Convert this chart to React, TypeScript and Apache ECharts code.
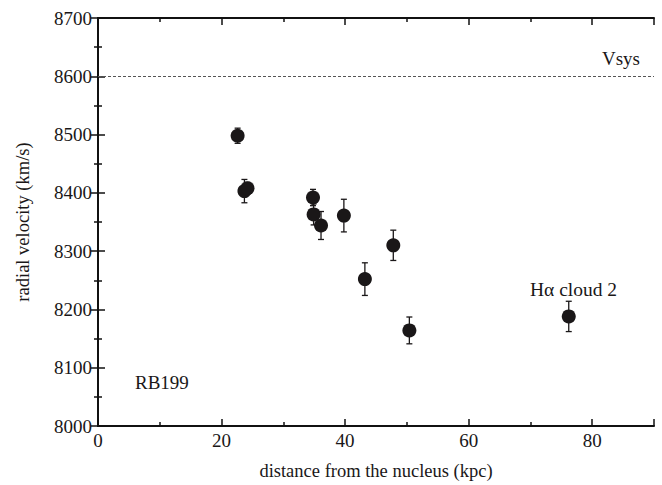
import React, { useEffect, useRef } from "react";
import * as echarts from "echarts";

const distances = [22.6, 23.7, 24.2, 34.8, 34.9, 36.1, 39.8, 43.2, 47.8, 50.4, 76.2];
const velocities = [8498, 8403, 8408, 8392, 8363, 8344, 8361, 8252, 8310, 8164, 8188];
const errors = [13, 20, 10, 14, 18, 24, 28, 28, 26, 23, 26];
const vsys = 8600;
const xTicks = [0, 20, 40, 60, 80];
const yTicks = [8000, 8100, 8200, 8300, 8400, 8500, 8600, 8700];

const FONT = "Liberation Serif";
const INK = "#1a1718";

export default function App() {
  const ref = useRef<HTMLDivElement>(null);
  useEffect(() => {
    if (!ref.current) return;
    const chart = echarts.init(ref.current, null, { renderer: "svg" });
    const pts = distances.map((d, i) => [d, velocities[i], errors[i]]);
    const axisLine = { show: true, lineStyle: { color: "#111", width: 2 } };
    const tickStyle = { color: "#111", width: 1.5 };
    chart.setOption({
      animation: false,
      backgroundColor: "#fff",
      grid: { left: 98, right: 8, top: 18, bottom: 59, containLabel: false },
      xAxis: [
        {
          type: "value", min: 0, max: 90, interval: 20,
          name: "distance from the nucleus (kpc)", nameLocation: "middle", nameGap: 35,
          nameTextStyle: { fontFamily: FONT, fontSize: 18.5, color: INK },
          axisLine,
          axisTick: { inside: true, length: 7, lineStyle: tickStyle },
          minorTick: { show: true, splitNumber: 2, length: 4, lineStyle: tickStyle },
          splitLine: { show: false },
          axisLabel: {
            fontFamily: FONT, fontSize: 19, color: INK, margin: 5,
            formatter: (v: number) => (xTicks.includes(v) ? String(v) : ""),
          },
        },
        {
          type: "value", min: 0, max: 90, interval: 20, position: "top",
          axisLine,
          axisTick: { inside: true, length: 7, lineStyle: tickStyle },
          minorTick: { show: true, splitNumber: 2, length: 4, lineStyle: tickStyle },
          splitLine: { show: false },
          axisLabel: { show: false },
        },
      ],
      yAxis: [
        {
          type: "value", min: 8000, max: 8700, interval: 100,
          name: "radial velocity (km/s)", nameLocation: "middle", nameGap: 66,
          nameTextStyle: { fontFamily: FONT, fontSize: 18.5, color: INK },
          axisLine,
          axisTick: { inside: true, length: 7, lineStyle: tickStyle },
          minorTick: { show: true, splitNumber: 2, length: 4, lineStyle: tickStyle },
          splitLine: { show: false },
          axisLabel: {
            fontFamily: FONT, fontSize: 19, color: INK, margin: 6,
            formatter: (v: number) => (yTicks.includes(v) ? String(v) : ""),
          },
        },
        {
          type: "value", min: 8000, max: 8700, interval: 100, position: "right",
          axisLine,
          axisTick: { inside: true, length: 7, lineStyle: tickStyle },
          minorTick: { show: true, splitNumber: 2, length: 4, lineStyle: tickStyle },
          splitLine: { show: false },
          axisLabel: { show: false },
        },
      ],
      series: [
        {
          type: "custom",
          data: pts,
          z: 2,
          renderItem: (params: any, api: any) => {
            const x = api.value(0);
            const y = api.value(1);
            const e = api.value(2);
            const top = api.coord([x, y + e]);
            const bot = api.coord([x, y - e]);
            const cap = 3;
            const style = { stroke: INK, lineWidth: 1.3 };
            return {
              type: "group",
              children: [
                { type: "line", shape: { x1: top[0], y1: top[1], x2: bot[0], y2: bot[1] }, style },
                { type: "line", shape: { x1: top[0] - cap, y1: top[1], x2: top[0] + cap, y2: top[1] }, style },
                { type: "line", shape: { x1: bot[0] - cap, y1: bot[1], x2: bot[0] + cap, y2: bot[1] }, style },
              ],
            };
          },
        },
        {
          type: "scatter",
          data: pts.map((p) => [p[0], p[1]]),
          symbol: "circle",
          symbolSize: 14,
          itemStyle: { color: INK, opacity: 1 },
          z: 3,
          markLine: {
            silent: true,
            symbol: "none",
            label: { show: false },
            lineStyle: { type: [3, 2], color: "#555", width: 1 },
            data: [{ yAxis: vsys }],
          },
        },
      ],
      graphic: [
        { type: "text", right: 22, top: 49, style: { text: "Vsys", fontFamily: FONT, fontSize: 19, fill: INK } },
        { type: "text", left: 530, top: 279, style: { text: "Hα cloud 2", fontFamily: FONT, fontSize: 19.5, fill: INK } },
        { type: "text", left: 135, top: 373, style: { text: "RB199", fontFamily: FONT, fontSize: 19, fill: INK } },
      ],
    });
    return () => chart.dispose();
  }, []);
  return <div ref={ref} style={{ width: 662, height: 485, position: "absolute", left: 0, top: 0 }} />;
}
